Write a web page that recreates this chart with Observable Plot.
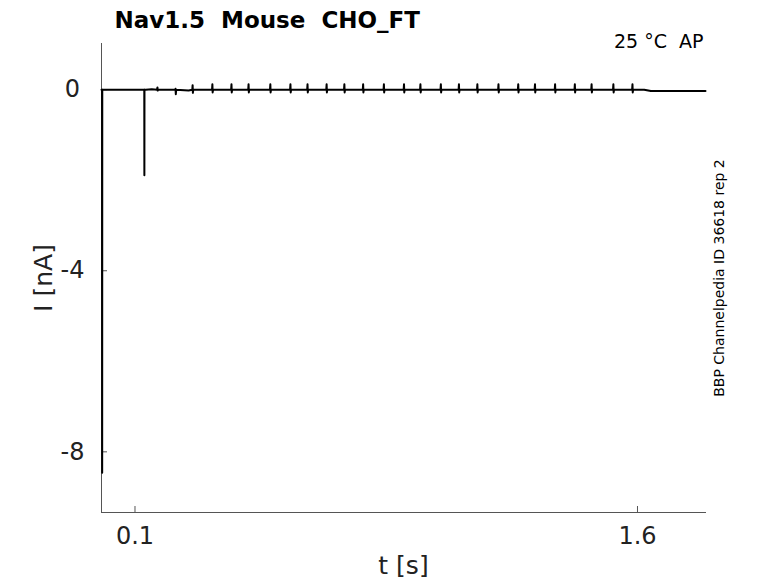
<!DOCTYPE html>
<html>
<head>
<meta charset="utf-8">
<script src="https://cdn.jsdelivr.net/npm/d3@7"></script>
<script src="https://cdn.jsdelivr.net/npm/@observablehq/plot@0.6"></script>
<style>
  html, body { margin: 0; padding: 0; background: #fff; }
  svg { font-family: "DejaVu Sans", sans-serif; white-space: pre; }
</style>
</head>
<body>
<div id="chart"></div>
<script>
// ---- data ----
const title = "Nav1.5  Mouse  CHO_FT";
const condition = "25 °C  AP";
const sourceNote = "BBP Channelpedia ID 36618 rep 2";
const xTicks = [0.1, 1.6];
const yTicks = [0, -4, -8];

// baseline segments (time [s], current [nA])
const baseT = [0, 0.0015, 0.0035, 0.12, 0.126, 0.132, 0.15, 0.26, 0.30, 1.62, 1.64, 1.803];
const baseI = [0, 0, 0, 0, 0, 0, 0.01, -0.02, 0, 0, -0.03, -0.03];

// fast transients: initial peak and first spike
const bigT = [0.002, 0.128];
const bigI = [-8.46, -1.89];

// small repetitive AP-clamp artefacts
const apTimes = [0.167, 0.221, 0.272, 0.331, 0.388, 0.439, 0.504, 0.564, 0.615, 0.672,
                 0.725, 0.781, 0.843, 0.903, 0.952, 1.013, 1.067, 1.122, 1.185, 1.244,
                 1.294, 1.354, 1.413, 1.463, 1.528, 1.585];
const apPeak = [0.05, 0.02, 0.10, 0.12, 0.12, 0.12, 0.12, 0.12, 0.12, 0.12,
                0.12, 0.12, 0.12, 0.12, 0.12, 0.12, 0.12, 0.12, 0.12, 0.12,
                0.12, 0.12, 0.12, 0.12, 0.12, 0.12];
const apTrough = [-0.02, -0.10, -0.07, -0.06, -0.06, -0.06, -0.06, -0.06, -0.06, -0.06,
                  -0.06, -0.06, -0.06, -0.06, -0.06, -0.06, -0.06, -0.06, -0.06, -0.06,
                  -0.06, -0.06, -0.06, -0.06, -0.06, -0.06];

// ---- assemble the trace ----
const pts = [];
baseT.forEach((t, i) => pts.push({t, I: baseI[i]}));
bigT.forEach((t, i) => {
  pts.push({t: t - 0.0003, I: 0});
  pts.push({t, I: bigI[i]});
  pts.push({t: t + 0.0003, I: 0});
});
apTimes.forEach((t, i) => {
  pts.push({t: t - 0.001, I: 0});
  pts.push({t, I: apPeak[i]});
  pts.push({t: t + 0.0008, I: apTrough[i]});
  pts.push({t: t + 0.002, I: 0});
});
pts.sort((a, b) => a.t - b.t);

const axisColor = "#555";
const labelColor = "#222";

const chart = Plot.plot({
  width: 778,
  height: 583,
  marginLeft: 101,
  marginRight: 73,
  marginTop: 43,
  marginBottom: 71,
  style: {fontFamily: "DejaVu Sans, sans-serif", background: "#fff", whiteSpace: "pre"},
  x: {domain: [0, 1.803]},
  y: {domain: [-9.34, 1.02]},
  marks: [
    Plot.frame({anchor: "left", stroke: axisColor}),
    Plot.frame({anchor: "bottom", stroke: axisColor}),
    Plot.axisX({ticks: xTicks, tickSize: -6, tickPadding: 20, stroke: axisColor,
                fill: labelColor, fontSize: 24, label: null, tickFormat: d => String(d)}),
    Plot.axisY({ticks: yTicks, tickSize: -6, tickPadding: 35, textAnchor: "middle", stroke: axisColor,
                fill: labelColor, fontSize: 24, label: null, tickFormat: d => String(d)}),
    Plot.line(pts, {x: "t", y: "I", stroke: "#000", strokeWidth: 2}),
    Plot.text([title], {frameAnchor: "top-left", dx: 13, dy: -16, lineAnchor: "bottom",
                        textAnchor: "start", fontSize: 23, fontWeight: "bold", fill: "#000"}),
    Plot.text([condition], {frameAnchor: "top-right", dx: -2, dy: 4, lineAnchor: "bottom",
                            textAnchor: "end", fontSize: 19, fill: "#000"}),
    Plot.text([sourceNote], {frameAnchor: "right", dx: 14, rotate: -90, lineAnchor: "middle",
                             textAnchor: "middle", fontSize: 14, fill: "#000"}),
    Plot.text(["I [nA]"], {frameAnchor: "left", dx: -58, rotate: -90, lineAnchor: "middle",
                           textAnchor: "middle", fontSize: 25, fill: labelColor}),
    Plot.text(["t [s]"], {frameAnchor: "bottom", dy: 53, lineAnchor: "middle",
                          textAnchor: "middle", fontSize: 25, fill: labelColor})
  ]
});
document.getElementById("chart").appendChild(chart);
</script>
</body>
</html>
